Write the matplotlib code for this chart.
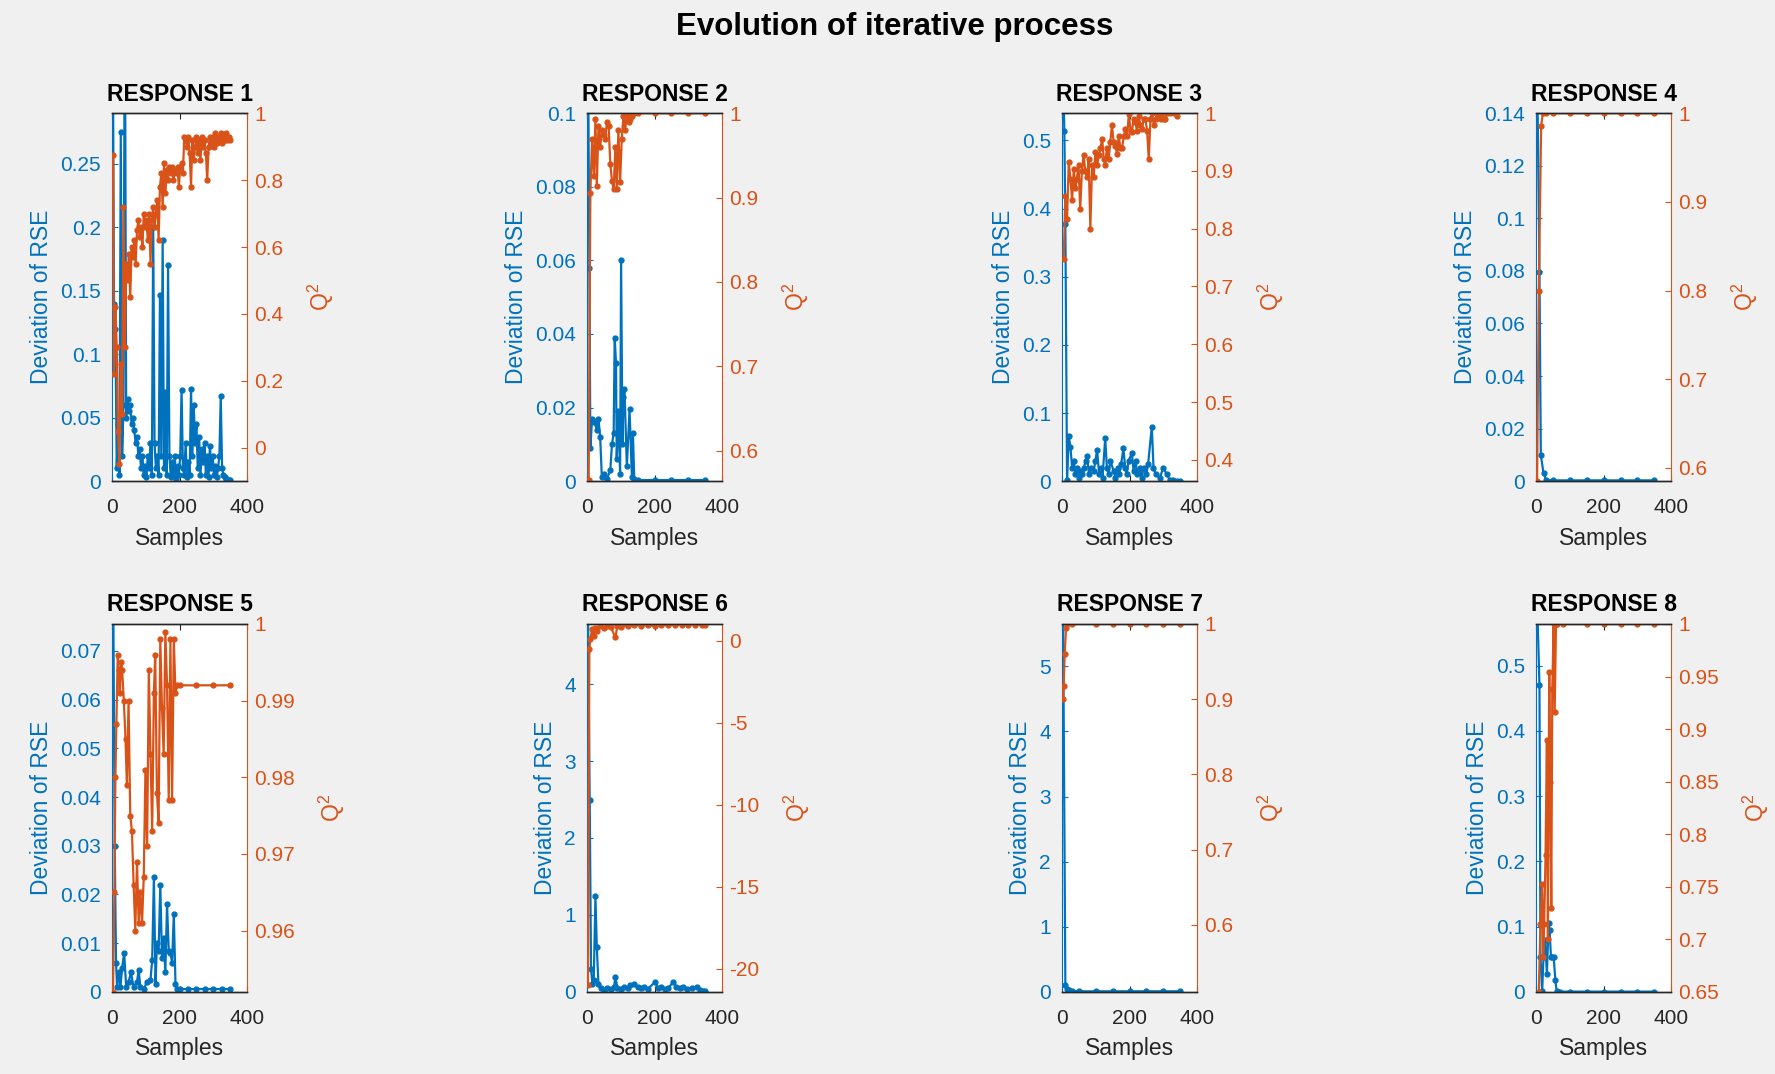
import matplotlib
matplotlib.use("Agg")
import matplotlib.pyplot as plt
from matplotlib.ticker import MultipleLocator, FormatStrFormatter

plt.rcParams["font.family"] = ["Liberation Sans", "DejaVu Sans"]
plt.rcParams["mathtext.fontset"] = "custom"
plt.rcParams["mathtext.rm"] = "Liberation Sans"
plt.rcParams["mathtext.it"] = "Liberation Sans"

BLUE = "#0072BD"
ORANGE = "#D95319"
DARK = "#262626"

# ---- RESPONSE 1 ------------------------------------------------------------
r1_x = [3, 6, 10, 14, 18, 22, 26, 30, 34, 38, 42, 46, 50, 54, 58, 62, 66, 70,
        74, 78, 82, 86, 90, 94, 98, 102, 106, 110, 114, 118, 122, 126, 130,
        134, 138, 142, 146, 150, 154, 158, 162, 166, 170, 174, 178, 182, 186,
        190, 194, 198, 202, 206, 210, 214, 218, 222, 226, 230, 234, 238, 242,
        246, 250, 254, 258, 262, 266, 270, 274, 278, 282, 286, 290, 294, 298,
        302, 306, 310, 314, 318, 322, 326, 330, 334, 338, 342, 346, 350]
r1_rse = [0.32, 0.14, 0.12, 0.01, 0.045, 0.005, 0.275, 0.02, 0.06, 0.40, 0.05,
          0.065, 0.055, 0.06, 0.045, 0.05, 0.04, 0.03, 0.035, 0.02, 0.025,
          0.01, 0.02, 0.005, 0.012, 0.003, 0.02, 0.01, 0.03, 0.005, 0.2, 0.03,
          0.01, 0.02, 0.005, 0.147, 0.02, 0.19, 0.01, 0.07, 0.005, 0.17, 0.02,
          0.003, 0.015, 0.005, 0.02, 0.002, 0.012, 0.005, 0.02, 0.072, 0.01,
          0.005, 0.03, 0.003, 0.015, 0.005, 0.073, 0.02, 0.06, 0.03, 0.045,
          0.01, 0.035, 0.005, 0.025, 0.015, 0.03, 0.005, 0.02, 0.003, 0.028,
          0.01, 0.02, 0.005, 0.012, 0.003, 0.01, 0.02, 0.067, 0.01, 0.005,
          0.003, 0.002, 0.001, 0.001, 0.001]
r1_q2 = [0.875, 0.22, 0.42, 0.30, 0.05, -0.05, 0.25, 0.10, 0.72, 0.30, 0.55,
         0.50, 0.58, 0.45, 0.60, 0.57, 0.62, 0.55, 0.65, 0.68, 0.63, 0.66,
         0.60, 0.70, 0.66, 0.68, 0.62, 0.70, 0.55, 0.68, 0.72, 0.66, 0.70,
         0.74, 0.62, 0.78, 0.82, 0.72, 0.85, 0.76, 0.83, 0.80, 0.84, 0.82,
         0.84, 0.80, 0.83, 0.82, 0.84, 0.78, 0.84, 0.85, 0.82, 0.93, 0.92,
         0.90, 0.93, 0.88, 0.78, 0.92, 0.86, 0.90, 0.93, 0.88, 0.92, 0.86,
         0.93, 0.90, 0.92, 0.88, 0.80, 0.90, 0.93, 0.91, 0.93, 0.90, 0.94,
         0.91, 0.93, 0.92, 0.94, 0.91, 0.93, 0.92, 0.94, 0.92, 0.93, 0.92]

# ---- RESPONSE 2 ------------------------------------------------------------
r2_rse_x = [3, 7, 10, 15, 22, 29, 34, 39, 44, 49, 59, 69, 74, 79, 82, 86, 88,
            93, 98, 101, 105, 108, 111, 118, 126, 133, 136, 140, 150, 200, 250,
            300, 350]
r2_rse = [0.12, 0.058, 0.009, 0.017, 0.016, 0.014, 0.017, 0.012, 0.001, 0.002,
          0.0005, 0.003, 0.01, 0.013, 0.039, 0.032, 0.006, 0.019, 0.002, 0.06,
          0.01, 0.023, 0.025, 0.004, 0.0195, 0.001, 0.013, 0.0005, 0.0003,
          0.0003, 0.0003, 0.0003, 0.0003]
r2_q2_x = [5, 10, 15, 20, 25, 29, 34, 39, 44, 49, 54, 59, 64, 69, 74, 79, 84,
           88, 93, 98, 103, 108, 113, 118, 123, 128, 133, 138, 150, 200, 250,
           300, 350]
r2_q2 = [0.565, 0.906, 0.97, 0.926, 0.993, 0.914, 0.985, 0.96, 0.98, 0.974,
         0.97, 0.99, 0.985, 0.94, 0.92, 0.91, 0.96, 0.91, 0.98, 0.918, 0.97,
         0.997, 0.98, 0.999, 0.99, 0.993, 0.997, 1.0, 1.0, 1.0, 1.0, 1.0, 1.0]

# ---- RESPONSE 3 ------------------------------------------------------------
r3_rse_x = [3, 7, 10, 15, 20, 25, 30, 35, 40, 45, 50, 55, 60, 65, 70, 74, 80,
            85, 94, 99, 104, 110, 116, 120, 128, 133, 138, 143, 153, 158, 165,
            170, 175, 182, 187, 192, 197, 207, 212, 218, 223, 230, 236, 242,
            250, 255, 266, 271, 277, 290, 300, 310, 320, 330, 340, 350]
r3_rse = [0.6, 0.514, 0.378, 0.002, 0.066, 0.05, 0.02, 0.03, 0.01, 0.02, 0.005,
          0.015, 0.01, 0.02, 0.03, 0.037, 0.01, 0.02, 0.015, 0.03, 0.046, 0.01,
          0.02, 0.005, 0.063, 0.02, 0.01, 0.03, 0.015, 0.005, 0.02, 0.01,
          0.025, 0.048, 0.02, 0.01, 0.03, 0.041, 0.015, 0.03, 0.01, 0.02,
          0.005, 0.02, 0.01, 0.025, 0.08, 0.02, 0.01, 0.005, 0.02, 0.01,
          0.001, 0.001, 0.0005, 0.0005]
r3_q2_x = [5, 10, 15, 20, 25, 30, 35, 40, 44, 49, 54, 59, 64, 69, 74, 79, 84,
           89, 94, 99, 104, 109, 114, 119, 124, 128, 133, 138, 143, 148, 153,
           158, 163, 168, 173, 178, 183, 188, 193, 198, 203, 207, 212, 217,
           222, 227, 232, 237, 242, 247, 252, 257, 262, 267, 272, 277, 282,
           287, 292, 297, 302, 306, 311, 321, 331, 340]
r3_q2 = [0.747, 0.857, 0.817, 0.915, 0.886, 0.85, 0.903, 0.87, 0.886, 0.91,
         0.834, 0.9, 0.927, 0.9, 0.89, 0.92, 0.8, 0.91, 0.89, 0.932, 0.91,
         0.927, 0.94, 0.955, 0.92, 0.91, 0.94, 0.92, 0.95, 0.979, 0.95, 0.944,
         0.93, 0.96, 0.94, 0.94, 0.96, 0.973, 0.96, 0.999, 0.97, 0.967, 0.99,
         0.985, 0.97, 0.996, 0.98, 0.973, 0.99, 0.99, 0.97, 0.92, 0.99, 1.0,
         0.98, 0.99, 1.0, 0.995, 0.99, 1.0, 0.99, 0.99, 1.0, 1.0, 1.0, 0.995]

# ---- RESPONSE 4 ------------------------------------------------------------
r4_rse_x = [3, 10, 14, 22, 30, 50, 100, 150, 200, 250, 300, 350]
r4_rse = [0.16, 0.0795, 0.01, 0.003, 0.0005, 0.0003, 0.0003, 0.0003, 0.0003,
          0.0003, 0.0003, 0.0003]
r4_q2_x = [3, 8, 15, 20, 30, 50, 100, 150, 200, 250, 300, 350]
r4_q2 = [0.585, 0.8, 0.986, 1.0, 1.0, 1.0, 1.0, 1.0, 1.0, 1.0, 1.0, 1.0]

# ---- RESPONSE 5 ------------------------------------------------------------
r5_rse_x = [3, 8, 12, 15, 20, 25, 30, 36, 42, 49, 56, 64, 74, 79, 84, 94, 104,
            114, 119, 124, 129, 133, 138, 143, 148, 153, 158, 163, 168, 173,
            178, 183, 188, 193, 200, 225, 250, 275, 300, 325, 350]
r5_rse = [0.09, 0.03, 0.006, 0.001, 0.004, 0.001, 0.005, 0.008, 0.001, 0.002,
          0.004, 0.001, 0.002, 0.0045, 0.001, 0.0007, 0.002, 0.0025, 0.0065,
          0.0235, 0.0017, 0.01, 0.0085, 0.022, 0.007, 0.011, 0.004, 0.018,
          0.0085, 0.008, 0.006, 0.016, 0.0017, 0.0007, 0.0006, 0.0006, 0.0006,
          0.0006, 0.0006, 0.0006, 0.0006]
r5_q2_x = [3, 7, 10, 13, 17, 20, 23, 27, 30, 35, 40, 44, 49, 54, 59, 64, 69,
           74, 79, 84, 89, 94, 99, 104, 109, 114, 119, 124, 128, 133, 138, 143,
           148, 153, 158, 163, 168, 173, 178, 183, 188, 193, 200, 250, 300, 350]
r5_q2 = [0.952, 0.965, 0.98, 0.987, 0.996, 0.994, 0.991, 0.995, 0.994, 0.99,
         0.985, 0.979, 0.99, 0.975, 0.973, 0.966, 0.960, 0.969, 0.961, 0.965,
         0.961, 0.967, 0.981, 0.971, 0.994, 0.983, 0.973, 0.991, 0.996, 0.978,
         0.974, 0.998, 0.989, 0.983, 0.999, 0.992, 0.977, 0.998, 0.977, 0.998,
         0.991, 0.992, 0.992, 0.992, 0.992, 0.992]

# ---- RESPONSE 6 ------------------------------------------------------------
r6_rse_x = [3, 8, 12, 16, 20, 25, 29, 34, 40, 50, 60, 70, 80, 84, 90, 100, 110,
            120, 128, 138, 150, 160, 170, 180, 202, 210, 220, 230, 240, 256,
            265, 275, 285, 295, 310, 325, 335, 345, 350]
r6_rse = [5.0, 2.5, 0.3, 0.1, 0.15, 1.24, 0.59, 0.1, 0.05, 0.03, 0.05, 0.04,
          0.06, 0.2, 0.05, 0.04, 0.06, 0.05, 0.09, 0.1, 0.06, 0.05, 0.07, 0.04,
          0.13, 0.05, 0.06, 0.04, 0.05, 0.13, 0.06, 0.05, 0.07, 0.04, 0.05,
          0.07, 0.02, 0.01, 0.01]
r6_q2_x = [3, 7, 10, 15, 20, 25, 30, 39, 50, 60, 70, 84, 90, 100, 120, 140,
           160, 180, 200, 220, 240, 260, 280, 300, 320, 340, 350]
r6_q2 = [-21.0, -0.51, 0.1, 0.7, 0.3, 0.8, 0.6, 0.9, 0.8, 0.9, 0.85, 0.2, 0.9,
         0.85, 0.9, 0.95, 0.92, 0.95, 0.9, 0.95, 0.95, 0.97, 0.97, 0.98, 0.98,
         0.98, 0.98]

# ---- RESPONSE 7 ------------------------------------------------------------
r7_rse_x = [3, 10, 15, 20, 30, 50, 100, 150, 200, 250, 300, 350]
r7_rse = [6.0, 0.1, 0.05, 0.03, 0.02, 0.01, 0.01, 0.01, 0.01, 0.01, 0.01, 0.01]
r7_q2_x = [3, 5, 8, 12, 16, 30, 100, 150, 200, 250, 300, 350]
r7_q2 = [0.9, 0.918, 0.96, 0.995, 1.0, 1.0, 1.0, 1.0, 1.0, 1.0, 1.0, 1.0]

# ---- RESPONSE 8 ------------------------------------------------------------
r8_rse_x = [3, 10, 13, 18, 22, 27, 32, 37, 40, 44, 48, 52, 57, 61, 70, 100,
            150, 200, 250, 300, 350]
r8_rse = [0.6, 0.47, 0.054, 0.001, 0.054, 0.08, 0.028, 0.105, 0.095, 0.054,
          0.054, 0.054, 0.018, 0.001, 0.0005, 0.0005, 0.0005, 0.0005, 0.0005,
          0.0005, 0.0005]
r8_q2_x = [8, 13, 18, 21, 24, 28, 32, 35, 39, 42, 45, 48, 52, 55, 59, 62, 80,
           150, 200, 250, 300, 350]
r8_q2 = [0.65, 0.715, 0.753, 0.683, 0.715, 0.78, 0.89, 0.70, 0.954, 0.85,
         0.73, 0.938, 1.0, 0.916, 1.0, 1.0, 1.0, 1.0, 1.0, 1.0, 1.0, 1.0]

titles = ["RESPONSE 1", "RESPONSE 2", "RESPONSE 3", "RESPONSE 4",
          "RESPONSE 5", "RESPONSE 6", "RESPONSE 7", "RESPONSE 8"]
rse_series = [(r1_x, r1_rse), (r2_rse_x, r2_rse), (r3_rse_x, r3_rse),
              (r4_rse_x, r4_rse), (r5_rse_x, r5_rse), (r6_rse_x, r6_rse),
              (r7_rse_x, r7_rse), (r8_rse_x, r8_rse)]
q2_series = [(r1_x, r1_q2), (r2_q2_x, r2_q2), (r3_q2_x, r3_q2),
             (r4_q2_x, r4_q2), (r5_q2_x, r5_q2), (r6_q2_x, r6_q2),
             (r7_q2_x, r7_q2), (r8_q2_x, r8_q2)]
rse_lims = [(0, 0.29), (0, 0.1), (0, 0.54), (0, 0.14),
            (0, 0.0755), (0, 4.78), (0, 5.65), (0, 0.564)]
rse_steps = [0.05, 0.02, 0.1, 0.02, 0.01, 1, 1, 0.1]
q2_lims = [(-0.1, 1.0), (0.564, 1.0), (0.363, 1.0), (0.585, 1.0),
           (0.952, 1.0), (-21.43, 1.02), (0.511, 1.0), (0.65, 1.0)]
q2_steps = [0.2, 0.1, 0.1, 0.1, 0.01, 5, 0.1, 0.05]

TICK_FS = 15
LABEL_FS = 16.5

fig = plt.figure(figsize=(17.75, 10.74), dpi=100, facecolor="#F0F0F0")
lefts = [0.0631, 0.3307, 0.5983, 0.8654]
bottoms = [0.552, 0.0764]
w, h = 0.0761, 0.3426

for i in range(8):
    ax = fig.add_axes([lefts[i % 4], bottoms[i // 4], w, h])
    ax.set_facecolor("white")
    ax2 = ax.twinx()

    x, y = rse_series[i]
    ax.plot(x, y, "-", color=BLUE, lw=1.6, marker=".", ms=7)
    x, y = q2_series[i]
    ax2.plot(x, y, "-", color=ORANGE, lw=1.6, marker=".", ms=7)

    ax.set_xlim(0, 400)
    ax.set_xticks([0, 200, 400])
    ax.set_ylim(*rse_lims[i])
    ax.yaxis.set_major_locator(MultipleLocator(rse_steps[i]))
    ax.yaxis.set_major_formatter(FormatStrFormatter("%g"))
    ax2.set_ylim(*q2_lims[i])
    ax2.yaxis.set_major_locator(MultipleLocator(q2_steps[i]))
    ax2.yaxis.set_major_formatter(FormatStrFormatter("%g"))

    for a in (ax, ax2):
        for s in ("top", "bottom"):
            a.spines[s].set_color(DARK)
            a.spines[s].set_linewidth(1.0)
    ax.spines["left"].set_color(BLUE)
    ax.spines["right"].set_visible(False)
    ax2.spines["left"].set_visible(False)
    ax2.spines["right"].set_color(ORANGE)

    ax.tick_params(axis="x", direction="in", top=True, length=4,
                   colors=DARK, labelsize=TICK_FS, pad=12)
    ax.tick_params(axis="y", direction="in", length=4, colors=BLUE,
                   labelsize=TICK_FS, pad=8)
    ax2.tick_params(axis="y", direction="in", length=4, colors=ORANGE,
                    labelsize=TICK_FS, pad=5)

    ax.set_xlabel("Samples", fontsize=LABEL_FS, color=DARK, labelpad=7)
    ax.set_ylabel("Deviation of RSE", fontsize=LABEL_FS, color=BLUE,
                  labelpad=5)
    ax2.set_ylabel("Q$^{2}$", fontsize=LABEL_FS, color=ORANGE, labelpad=16)
    ax.set_title(titles[i], fontsize=LABEL_FS, fontweight="bold",
                 color="black", pad=9)

fig.text(0.504, 0.975, "Evolution of iterative process", ha="center",
         va="center", fontsize=22.5, fontweight="bold", color="black")

fig.savefig("out.png", dpi=100, facecolor=fig.get_facecolor())
plt.close(fig)
